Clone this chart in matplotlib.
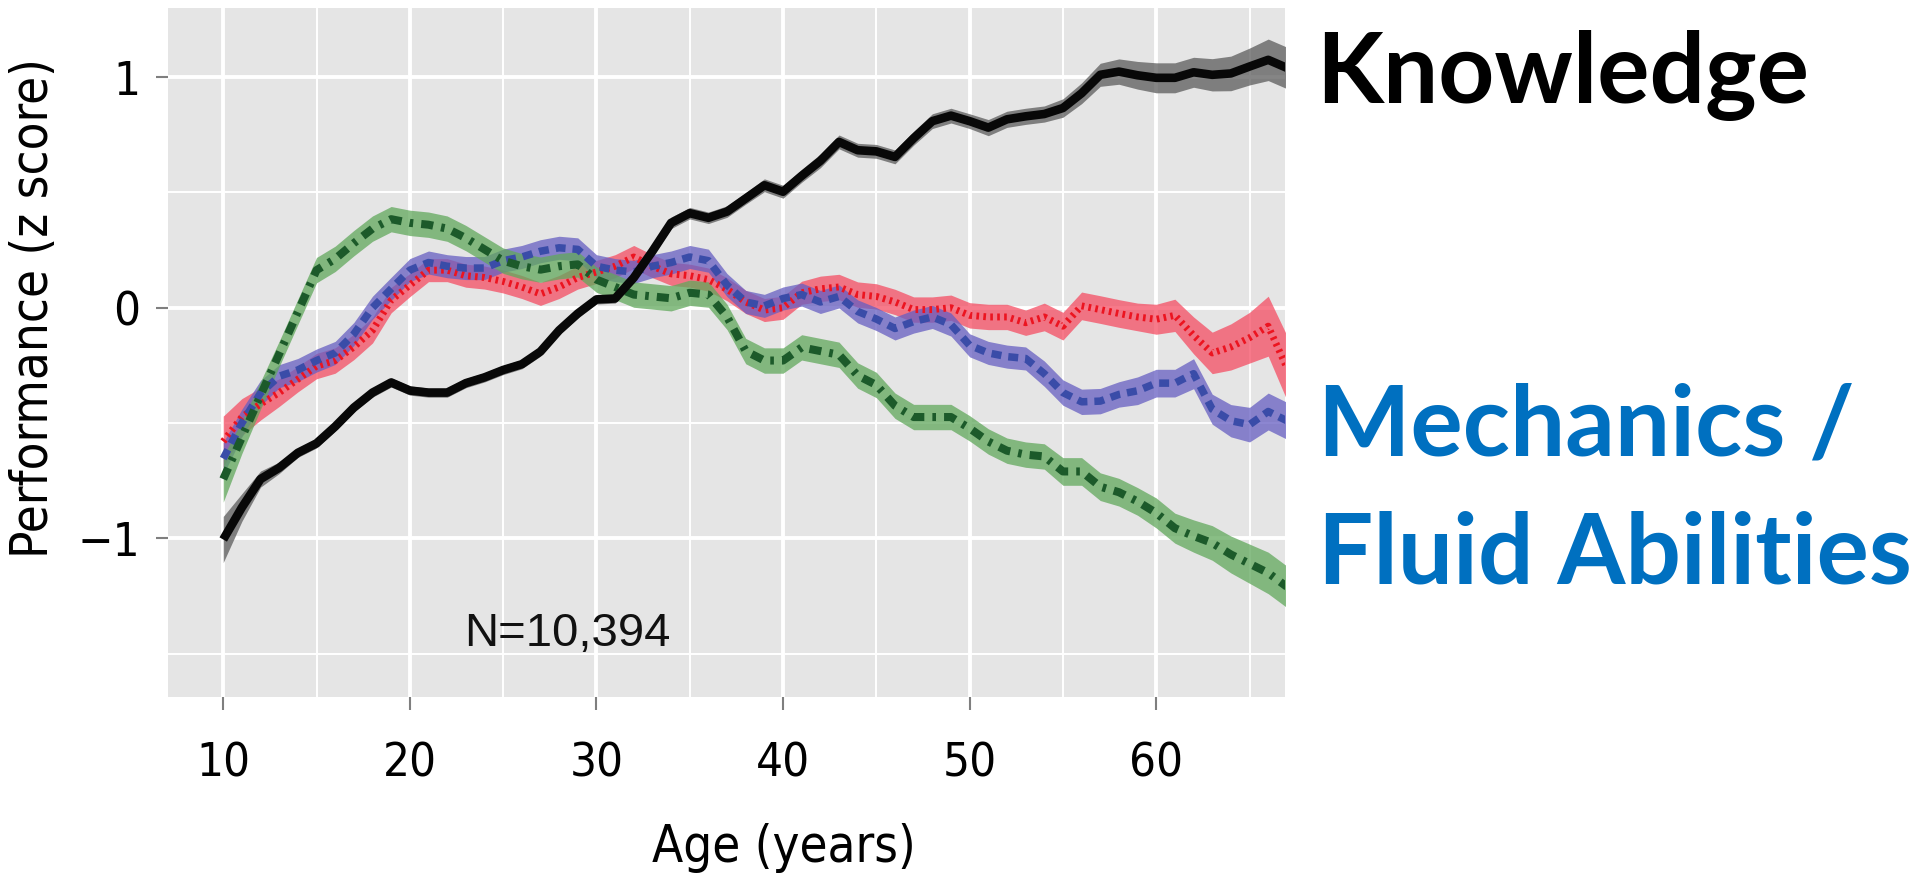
import matplotlib
matplotlib.use("Agg")
import matplotlib.pyplot as plt
from matplotlib import font_manager as fm
import numpy as np

# ---------------- data ----------------
ages = list(range(10, 68))

knowledge = [-1.005, -0.866, -0.743, -0.694, -0.629, -0.588, -0.515, -0.433, -0.368, -0.324,
             -0.359, -0.368, -0.368, -0.327, -0.302, -0.270, -0.245, -0.190, -0.098, -0.025,
             0.036, 0.040, 0.130, 0.245, 0.368, 0.410, 0.390, 0.417, 0.474, 0.531,
             0.503, 0.572, 0.637, 0.719, 0.683, 0.678, 0.654, 0.735, 0.809, 0.833,
             0.809, 0.781, 0.817, 0.830, 0.840, 0.866, 0.930, 1.010, 1.024, 1.008,
             0.997, 0.997, 1.021, 1.010, 1.016, 1.046, 1.075, 1.040]
knowledge_ci = [0.10, 0.06, 0.035, 0.025, 0.02, 0.02, 0.02, 0.02, 0.02, 0.02,
                0.02, 0.02, 0.02, 0.02, 0.02, 0.02, 0.02, 0.02, 0.02, 0.02,
                0.02, 0.02, 0.02, 0.025, 0.025, 0.025, 0.025, 0.025, 0.025, 0.028,
                0.028, 0.028, 0.03, 0.03, 0.03, 0.03, 0.03, 0.03, 0.032, 0.032,
                0.032, 0.035, 0.035, 0.035, 0.035, 0.04, 0.045, 0.05, 0.055, 0.06,
                0.065, 0.065, 0.065, 0.07, 0.075, 0.08, 0.09, 0.09]

reasoning = [-0.580, -0.474, -0.417, -0.368, -0.310, -0.253, -0.229, -0.170, -0.098, 0.033,
             0.098, 0.163, 0.163, 0.139, 0.131, 0.114, 0.090, 0.060, 0.090, 0.131,
             0.155, 0.180, 0.220, 0.180, 0.147, 0.139, 0.122, 0.080, 0.025, -0.010,
             0.000, 0.065, 0.082, 0.090, 0.057, 0.049, 0.025, -0.008, -0.008, 0.000,
             -0.033, -0.040, -0.040, -0.065, -0.040, -0.080, 0.008, -0.008, -0.025, -0.040,
             -0.050, -0.033, -0.120, -0.196, -0.170, -0.130, -0.080, -0.260]
reasoning_ci = [0.11, 0.08, 0.07, 0.06, 0.055, 0.055, 0.055, 0.055, 0.055, 0.055,
                0.05, 0.05, 0.05, 0.05, 0.05, 0.05, 0.05, 0.05, 0.05, 0.05,
                0.05, 0.05, 0.05, 0.05, 0.05, 0.05, 0.05, 0.05, 0.05, 0.05,
                0.05, 0.05, 0.055, 0.055, 0.055, 0.055, 0.055, 0.055, 0.055, 0.055,
                0.055, 0.055, 0.055, 0.055, 0.06, 0.06, 0.06, 0.06, 0.06, 0.06,
                0.065, 0.07, 0.08, 0.09, 0.10, 0.11, 0.13, 0.14]

memory = [-0.654, -0.500, -0.370, -0.297, -0.270, -0.229, -0.196, -0.114, 0.000, 0.082,
          0.163, 0.196, 0.180, 0.172, 0.172, 0.204, 0.220, 0.245, 0.260, 0.253,
          0.180, 0.163, 0.155, 0.180, 0.196, 0.220, 0.204, 0.098, 0.025, 0.008,
          0.040, 0.057, 0.025, 0.049, -0.016, -0.049, -0.090, -0.060, -0.040, -0.073,
          -0.163, -0.196, -0.212, -0.220, -0.286, -0.368, -0.408, -0.405, -0.376, -0.360,
          -0.327, -0.327, -0.286, -0.440, -0.490, -0.507, -0.450, -0.490]
memory_ci = [0.07, 0.06, 0.055, 0.05, 0.05, 0.05, 0.05, 0.05, 0.05, 0.05,
             0.05, 0.05, 0.05, 0.05, 0.05, 0.05, 0.05, 0.05, 0.05, 0.05,
             0.05, 0.05, 0.05, 0.05, 0.05, 0.05, 0.05, 0.05, 0.05, 0.05,
             0.05, 0.05, 0.05, 0.05, 0.05, 0.05, 0.05, 0.05, 0.05, 0.05,
             0.05, 0.05, 0.05, 0.05, 0.055, 0.055, 0.055, 0.055, 0.055, 0.06,
             0.06, 0.06, 0.065, 0.065, 0.07, 0.075, 0.08, 0.08]

speed = [-0.743, -0.562, -0.380, -0.200, -0.018, 0.163, 0.212, 0.280, 0.343, 0.384,
         0.368, 0.360, 0.343, 0.302, 0.253, 0.204, 0.180, 0.165, 0.180, 0.188,
         0.122, 0.090, 0.057, 0.049, 0.041, 0.065, 0.057, -0.040, -0.188, -0.229,
         -0.229, -0.172, -0.188, -0.204, -0.294, -0.335, -0.425, -0.474, -0.474, -0.474,
         -0.523, -0.580, -0.620, -0.637, -0.645, -0.710, -0.710, -0.776, -0.800, -0.840,
         -0.890, -0.956, -0.990, -1.020, -1.070, -1.110, -1.150, -1.210]
speed_ci = [0.10, 0.07, 0.06, 0.055, 0.055, 0.055, 0.055, 0.055, 0.055, 0.055,
            0.055, 0.055, 0.055, 0.055, 0.055, 0.055, 0.055, 0.055, 0.055, 0.055,
            0.055, 0.055, 0.055, 0.055, 0.055, 0.055, 0.055, 0.055, 0.055, 0.055,
            0.055, 0.055, 0.055, 0.055, 0.055, 0.055, 0.055, 0.055, 0.055, 0.055,
            0.055, 0.055, 0.055, 0.055, 0.055, 0.06, 0.06, 0.06, 0.06, 0.06,
            0.065, 0.065, 0.07, 0.075, 0.08, 0.085, 0.09, 0.09]

x_ticks = [10, 20, 30, 40, 50, 60]
y_ticks = [-1, 0, 1]
y_tick_labels = ["\u22121", "0", "1"]
sample_note = "N=10,394"
x_title = "Age (years)"
y_title = "Performance (z score)"
label_knowledge = "Knowledge"
label_fluid_1 = "Mechanics /"
label_fluid_2 = "Fluid Abilities"

# ---------------- condensed font lookup ----------------
def find_condensed():
    regular = [f for f in fm.fontManager.ttflist
               if f.style == "normal" and f.weight in (400, "normal", "regular")]
    for want in ("Liberation Sans Narrow", "DejaVu Sans Condensed"):
        for f in regular:
            if f.name == want or want.replace(" ", "") in str(f.fname).replace(" ", ""):
                return f
    for f in regular:
        nm = f.name + " " + str(f.fname)
        if "Narrow" in nm or "Condensed" in nm:
            return f
    return None

cond = find_condensed()
if cond is not None:
    is_narrow = "Narrow" in (cond.name + str(cond.fname))
    tick_size = 37 if is_narrow else 34
    title_size = 40 if is_narrow else 36.5
    tick_fp = fm.FontProperties(fname=cond.fname, size=tick_size)
    title_fp = fm.FontProperties(fname=cond.fname, size=title_size)
else:
    tick_fp = fm.FontProperties(family=["Liberation Sans", "DejaVu Sans"], size=31)
    title_fp = fm.FontProperties(family=["Liberation Sans", "DejaVu Sans"], size=33)

# ---------------- figure ----------------
W, H = 1917, 876
fig = plt.figure(figsize=(W / 100, H / 100), dpi=100)
ax = fig.add_axes([168 / W, 1 - 697 / H, (1285 - 168) / W, (697 - 8.4) / H])
ax.set_facecolor("#E5E5E5")
for s in ax.spines.values():
    s.set_visible(False)

ax.set_xlim(7.04, 66.9)
ax.set_ylim(-1.688, 1.298)

ax.set_xticks(x_ticks)
ax.set_xticks([15, 25, 35, 45, 55, 65], minor=True)
ax.set_yticks(y_ticks)
ax.set_yticks([-1.5, -0.5, 0.5], minor=True)
ax.grid(which="major", color="white", linewidth=2.8)
ax.grid(which="minor", color="white", linewidth=1.4)
ax.set_axisbelow(True)

ax.set_yticklabels(y_tick_labels)
ax.set_xticklabels([str(v) for v in x_ticks])
for lab in ax.get_xticklabels() + ax.get_yticklabels():
    lab.set_fontproperties(tick_fp)
ax.tick_params(which="major", length=9, width=1.5, color="#7F7F7F")
ax.tick_params(axis="x", which="major", pad=23)
ax.tick_params(axis="y", which="major", pad=11)
ax.tick_params(which="minor", length=0)

x = np.array(ages)
series = [
    (knowledge, knowledge_ci, (0.36, 0.36, 0.36), "#080808", "-", 6.2),
    (reasoning, reasoning_ci, (0.96, 0.30, 0.39), "#EC1420", (0, (0.38, 0.62)), 5.0),
    (memory, memory_ci, (0.40, 0.37, 0.76), "#3A4CA8", (0, (1.33, 0.93)), 5.4),
    (speed, speed_ci, (0.38, 0.66, 0.36), "#1C5A2A", (0, (1.5, 1.0, 0.45, 1.0)), 5.8),
]
for vals, ci, band, lc, ls, lw in series:
    v = np.array(vals)
    c = np.array(ci)
    ax.fill_between(x, v - c, v + c, color=band, alpha=0.75, linewidth=0, zorder=2)
for vals, ci, band, lc, ls, lw in series[1:] + series[:1]:
    ax.plot(x, vals, color=lc, linestyle=ls, linewidth=lw, zorder=3,
            dash_capstyle="butt", solid_joinstyle="round", solid_capstyle="butt")

ax.text(22.9, -1.466, sample_note, fontsize=34, family=["Liberation Sans", "DejaVu Sans"],
        ha="left", va="baseline", color="#111111")

# axis titles
fig.text(34 / W, 1 - 308.5 / H, y_title, rotation=90, ha="center", va="center",
         fontproperties=title_fp)
fig.text(784 / W, 1 - 862 / H, x_title, ha="center", va="baseline",
         fontproperties=title_fp)

# right-hand labels
big_font = ["Lato", "DejaVu Sans"]
fig.text(1316 / W, 1 - 103 / H, label_knowledge, ha="left", va="baseline", fontsize=70.5,
         fontweight="bold", family=big_font, color="black")
fig.text(1318 / W, 1 - 455 / H, label_fluid_1, ha="left", va="baseline", fontsize=70.5,
         fontweight="bold", family=big_font, color="#0070C0")
fig.text(1318 / W, 1 - 583 / H, label_fluid_2, ha="left", va="baseline", fontsize=70.5,
         fontweight="bold", family=big_font, color="#0070C0")

fig.savefig("out.png", dpi=100)
